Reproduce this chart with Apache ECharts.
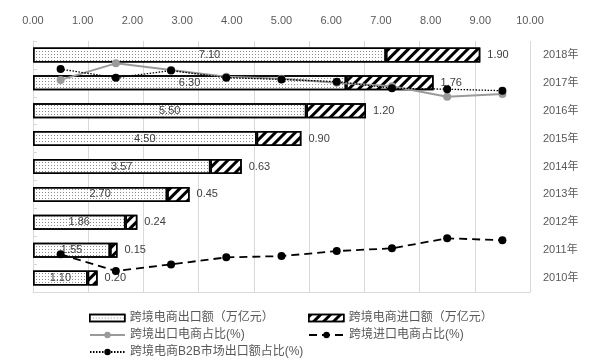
<!DOCTYPE html>
<html><head><meta charset="utf-8">
<script src="https://cdn.jsdelivr.net/npm/echarts@6/dist/echarts.min.js"></script>
<style>html,body{margin:0;padding:0;background:#fff}#c{width:601px;height:363px}</style>
</head><body><div id="c"></div>
<script>
const years = ['2010年','2011年','2012年','2013年','2014年','2015年','2016年','2017年','2018年'];
const exportVal = [1.10,1.55,1.86,2.70,3.57,4.50,5.50,6.30,7.10];
const importVal = [0.20,0.15,0.24,0.45,0.63,0.90,1.20,1.76,1.90];
const exportShare = [84.5,91.1,88.4,85.8,85.0,83.4,82.0,77.8,78.9];
const importShare = [15.0,8.4,11.0,13.8,14.3,16.3,17.4,21.4,20.6];
const b2bShare = [88.8,85.4,88.2,85.4,84.7,83.8,81.2,80.8,80.2];
const names = ['跨境电商出口额（万亿元）','跨境电商进口额（万亿元）','跨境出口电商占比(%)','跨境进口电商占比(%)','跨境电商B2B市场出口额占比(%)'];

const FONT = '"Liberation Sans","Noto Sans CJK SC",sans-serif';
const dotDecal = {symbol:'rect', symbolSize:1, dashArrayX:[1,2], dashArrayY:[1,2], color:'#8c8c8c'};
const hatchDecal = {symbol:'rect', symbolSize:1, dashArrayX:[1,0], dashArrayY:[2.2,3.2], rotation:-Math.PI/4, color:'#000'};
const chart = echarts.init(document.getElementById('c'), null, {renderer:'canvas'});
function lg(name, left, top, extra){
  return Object.assign({data:[name], left:left, top:top, padding:0, itemWidth:35, itemHeight:8, itemGap:4,
    textStyle:{fontFamily:FONT, fontSize:12, color:'#595959'}}, extra || {});
}
chart.setOption({
  animation:false,
  grid:{left:33, right:71, top:41, bottom:71},
  legend:[
    lg(names[0],89,312,{icon:'rect', itemHeight:7, itemStyle:{color:'#fff', borderColor:'#000', borderWidth:1.5, decal:dotDecal}}),
    lg(names[1],308,312,{icon:'rect', itemHeight:7, itemStyle:{color:'#fff', borderColor:'#000', borderWidth:1.5, decal:hatchDecal}}),
    lg(names[2],89,329), lg(names[3],308,329), lg(names[4],89,346)],
  xAxis:[
    {type:'value', position:'top', min:0, max:10, interval:1,
     axisLine:{show:false}, axisTick:{show:false}, splitLine:{show:false},
     axisLabel:{margin:15, fontFamily:FONT, fontSize:11, color:'#595959', formatter:v=>v.toFixed(2)}},
    {type:'category', position:'bottom', data:years, boundaryGap:true,
     axisLine:{show:true, lineStyle:{color:'#d9d9d9', width:1}}, axisTick:{show:false}, axisLabel:{show:false},
     splitLine:{show:true, lineStyle:{color:'#d9d9d9', width:1}}}
  ],
  yAxis:[
    {type:'category', position:'right', data:years,
     axisLine:{show:true, lineStyle:{color:'#d9d9d9'}}, axisTick:{show:true, length:4, lineStyle:{color:'#d9d9d9'}},
     axisLabel:{margin:13, fontFamily:FONT, fontSize:11, color:'#595959'}},
    {type:'value', position:'left', min:0, max:100, show:false, splitLine:{show:false}}
  ],
  series:[
    {name:names[0], type:'bar', stack:'a', xAxisIndex:0, yAxisIndex:0, data:exportVal, barWidth:15,
     itemStyle:{color:'#ffffff', borderColor:'#000', borderWidth:1.5, decal:dotDecal},
     label:{show:true, position:'inside', fontFamily:FONT, fontSize:11, color:'#404040', formatter:p=>p.value.toFixed(2)}},
    {name:names[1], type:'bar', stack:'a', xAxisIndex:0, yAxisIndex:0, data:importVal, barWidth:15,
     itemStyle:{color:'#ffffff', borderColor:'#000', borderWidth:1.5, decal:hatchDecal},
     label:{show:true, position:'right', distance:7, fontFamily:FONT, fontSize:11, color:'#404040', formatter:p=>p.value.toFixed(2)}},
    {name:names[2], type:'line', xAxisIndex:1, yAxisIndex:1, data:exportShare, symbol:'circle', symbolSize:8,
     lineStyle:{color:'#9a9a9a', width:2}, itemStyle:{color:'#9a9a9a'}, z:3},
    {name:names[3], type:'line', xAxisIndex:1, yAxisIndex:1, data:importShare, symbol:'circle', symbolSize:8,
     lineStyle:{color:'#000', width:1.8, type:[8,5]}, itemStyle:{color:'#000'}, z:4},
    {name:names[4], type:'line', xAxisIndex:1, yAxisIndex:1, data:b2bShare, symbol:'circle', symbolSize:8,
     lineStyle:{color:'#000', width:1.3, type:[1.5,1.5]}, itemStyle:{color:'#000'}, z:5}
  ]
});
</script></body></html>
